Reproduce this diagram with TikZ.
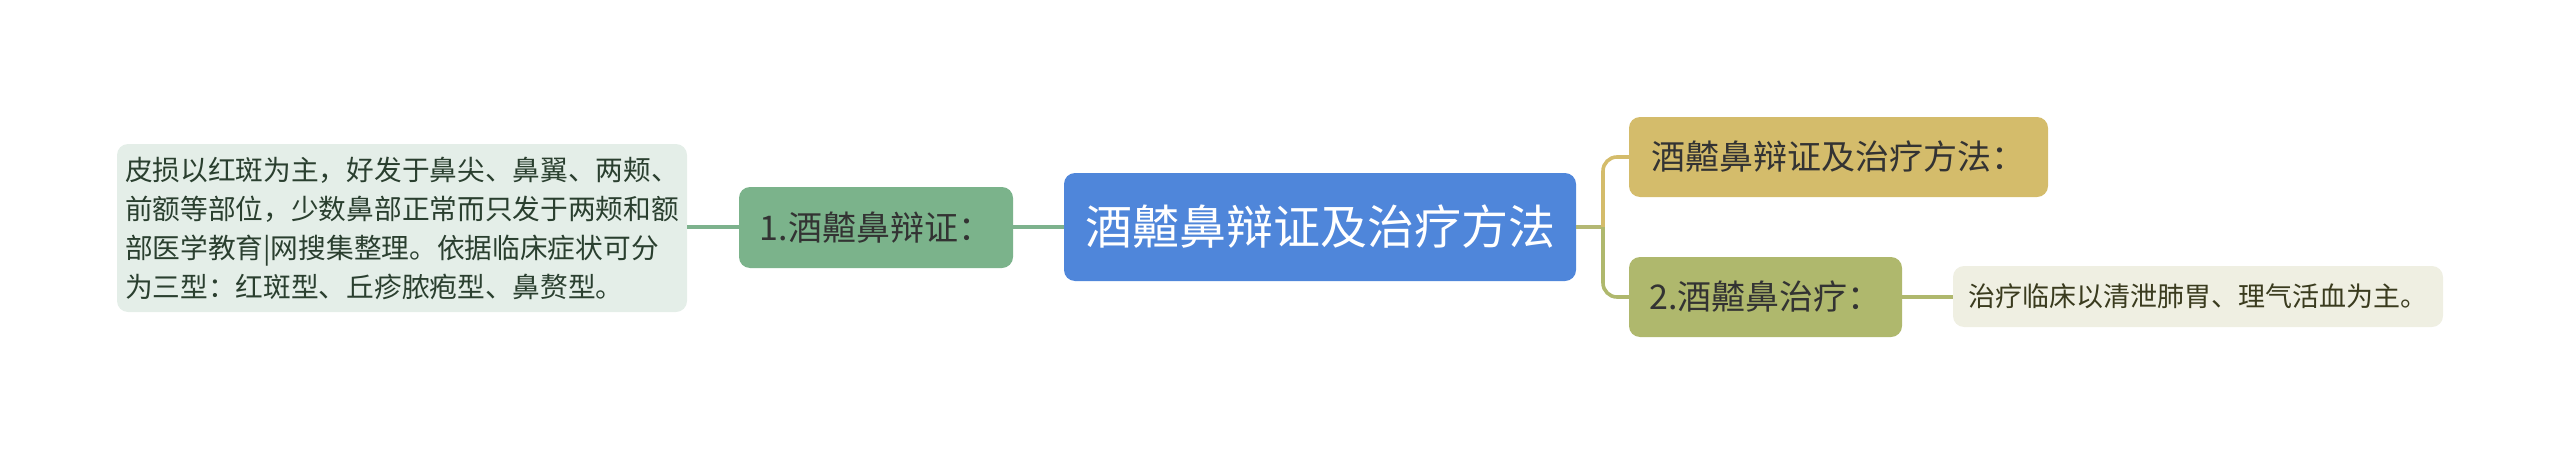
\documentclass[tikz,border=0pt]{standalone}
\usepackage{fontspec}
\setmainfont{Noto Sans CJK SC}
\definecolor{lboxfill}{HTML}{E4EEE8}
\definecolor{lboxtext}{HTML}{2A3F2F}
\definecolor{greenfill}{HTML}{7BB38B}
\definecolor{greenline}{HTML}{7DB28D}
\definecolor{bluefill}{HTML}{4F86DA}
\definecolor{goldfill}{HTML}{D4BC6B}
\definecolor{olivefill}{HTML}{AFB86D}
\definecolor{trunkline}{HTML}{B4B874}
\definecolor{leaffill}{HTML}{EFEFE2}
\definecolor{leaftext}{HTML}{3A3B1E}
\definecolor{darktext}{HTML}{333333}
\tikzset{
  box/.style={rectangle, rounded corners=11pt, inner sep=0pt, outer sep=0pt},
  conn/.style={line width=3.6pt},
}
\begin{document}
\begin{tikzpicture}[x=1pt,y=-1pt]
\useasboundingbox (0,0) rectangle (2560,455);
% left detail box: x 117-687, y 144-312
\node[box, fill=lboxfill, text=lboxtext, minimum width=570pt, minimum height=168pt,
      align=left, font=\fontsize{27.7}{39}\selectfont] (lbox) at (402,228)
  {皮损以红斑为主，好发于鼻尖、鼻翼、两颊、\\前额等部位，少数鼻部正常而只发于两颊和额\\部医学教育|网搜集整理。依据临床症状可分\\为三型：红斑型、丘疹脓疱型、鼻赘型。};
% node 1: x 739-1013, y 187-268
\node[box, fill=greenfill, text=darktext, minimum width=274pt, minimum height=81pt,
      font=\fontsize{34}{40}\selectfont] (n1) at (876,227.5) {1.酒齄鼻辩证：};
% center: x 1064-1576, y 173-281
\node[box, fill=bluefill, text=white, minimum width=512pt, minimum height=108pt,
      font=\fontsize{47}{54}\selectfont] (c) at (1320,227) {酒齄鼻辩证及治疗方法};
% top child: x 1629-2048, y 117-197
\node[box, fill=goldfill, text=darktext, minimum width=419pt, minimum height=80pt,
      font=\fontsize{34}{40}\selectfont] (t) at (1838.5,157) {酒齄鼻辩证及治疗方法：};
% bottom child: x 1629-1902, y 257-337
\node[box, fill=olivefill, text=darktext, minimum width=273pt, minimum height=80pt,
      font=\fontsize{34}{40}\selectfont] (b) at (1765.5,297) {2.酒齄鼻治疗：};
% leaf: x 1953-2443, y 266-327
\node[box, fill=leaffill, text=leaftext, minimum width=490pt, minimum height=61pt,
      font=\fontsize{27}{32}\selectfont] (leaf) at (2198,296.5) {治疗临床以清泄肺胃、理气活血为主。};
% connectors
\coordinate (br) at (1603,227);
\draw[conn, greenline] (lbox.east |- 0,227) -- (n1.west |- 0,227);
\draw[conn, greenline] (n1.east |- 0,227) -- (c.west |- 0,227);
\draw[conn, trunkline] (c.east |- 0,227) -- (br);
\draw[conn, goldfill, rounded corners=14pt] (br) |- (t.west);
\draw[conn, olivefill, rounded corners=14pt] (br) |- (b.west);
\draw[conn, olivefill] (b.east) -- (leaf.west |- b.east);
\end{tikzpicture}
\end{document}
